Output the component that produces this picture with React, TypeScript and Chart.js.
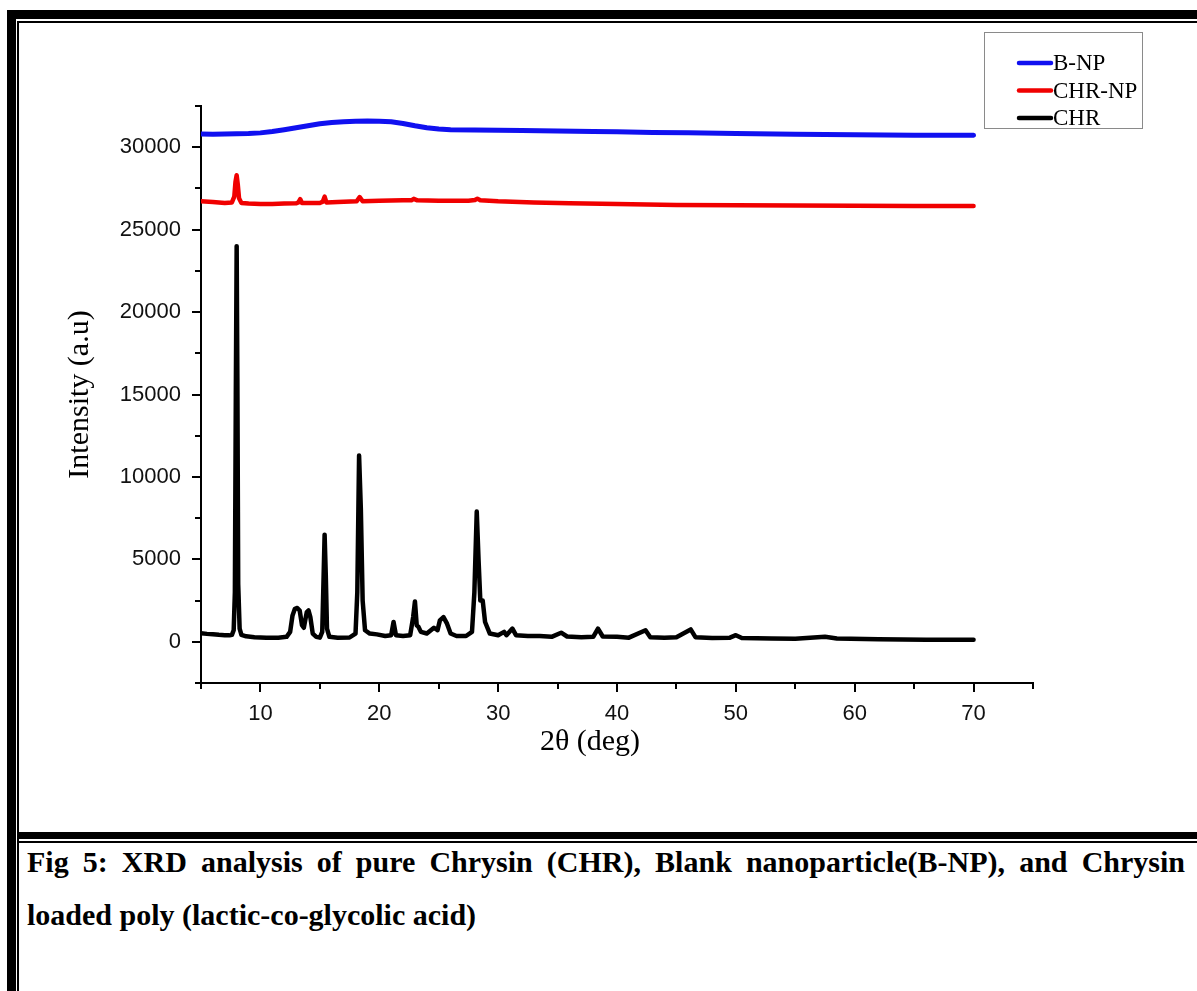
import React, { useEffect, useRef } from "react";
import { Chart, registerables } from "chart.js";

Chart.register(...registerables);

// ---- data ----
const SERIES_LABELS = ["B-NP", "CHR-NP", "CHR"];
const SERIES_COLORS = ["#1010f0", "#f00000", "#000000"];

const BNP_2THETA = [5, 6, 7, 8, 9, 10, 11, 12, 13, 14, 15, 16, 17, 18, 19, 20, 21, 22, 23, 24, 25, 26, 28, 30, 32, 35, 38, 40, 43, 46, 50, 55, 60, 65, 70];
const BNP_INTENSITY = [30800, 30790, 30800, 30810, 30830, 30870, 30950, 31060, 31180, 31300, 31420, 31500, 31550, 31580, 31590, 31580, 31540, 31440, 31300, 31180, 31100, 31060, 31040, 31030, 31010, 30990, 30960, 30940, 30900, 30870, 30830, 30780, 30750, 30730, 30720];

const CHRNP_2THETA = [5, 6, 7, 7.6, 7.8, 7.9, 8.0, 8.1, 8.2, 8.4, 9, 10, 11, 12, 13, 13.2, 13.35, 13.5, 15.0, 15.25, 15.4, 15.55, 16.5, 18.1, 18.35, 18.6, 20, 22, 22.7, 22.9, 23.2, 25, 27.5, 28.05, 28.25, 28.5, 30, 33, 36, 40, 45, 50, 55, 60, 65, 70];
const CHRNP_INTENSITY = [26720, 26680, 26620, 26650, 27000, 27900, 28300, 27700, 26900, 26620, 26580, 26560, 26560, 26580, 26600, 26650, 26850, 26620, 26620, 26700, 27000, 26650, 26680, 26720, 26980, 26720, 26760, 26780, 26780, 26870, 26780, 26760, 26750, 26800, 26880, 26780, 26720, 26650, 26600, 26550, 26500, 26480, 26460, 26450, 26440, 26430];

const CHR_2THETA = [5.0, 5.5, 6.0, 6.5, 7.0, 7.4, 7.6, 7.75, 7.85, 7.93, 8.0, 8.06, 8.13, 8.25, 8.4, 8.8, 9.5, 10.5, 11.5, 12.2, 12.5, 12.7, 12.9, 13.1, 13.3, 13.5, 13.65, 13.9, 14.05, 14.2, 14.4, 14.7, 15.0, 15.2, 15.3, 15.4, 15.5, 15.6, 15.8, 16.5, 17.5, 18.0, 18.15, 18.3, 18.45, 18.6, 18.8, 19.2, 19.8, 20.5, 21.0, 21.2, 21.4, 22.0, 22.6, 22.85, 23.0, 23.15, 23.3, 23.5, 24.0, 24.6, 24.9, 25.1, 25.4, 25.7, 26.0, 26.5, 27.3, 27.8, 28.0, 28.2, 28.35, 28.5, 28.7, 28.9, 29.3, 30.0, 30.5, 30.7, 31.2, 31.5, 32.5, 33.5, 34.5, 35.3, 35.8, 37.0, 38.0, 38.4, 38.8, 40.0, 41.0, 42.4, 42.8, 44.0, 45.0, 46.2, 46.6, 48.0, 49.5, 50.0, 50.5, 53.0, 55.0, 57.5, 58.5, 62.0, 66.0, 70.0];
const CHR_INTENSITY = [520, 480, 450, 420, 400, 390, 420, 700, 3000, 15000, 24000, 16000, 3500, 800, 420, 330, 280, 250, 250, 300, 600, 1600, 2000, 2050, 1900, 1000, 850, 1800, 1900, 1500, 500, 300, 250, 600, 3500, 6500, 4000, 800, 300, 250, 260, 500, 3000, 11300, 8000, 2500, 700, 500, 450, 350, 400, 1200, 400, 350, 400, 1500, 2450, 1000, 900, 600, 500, 850, 700, 1300, 1500, 1100, 500, 350, 350, 600, 3000, 7900, 5000, 2500, 2500, 1200, 500, 400, 600, 400, 800, 400, 350, 350, 300, 550, 320, 280, 300, 800, 320, 300, 250, 700, 280, 250, 280, 750, 280, 230, 250, 400, 230, 200, 180, 300, 200, 150, 130, 120];

const X_MIN = 5;
const X_MAX = 75;
const X_STEP = 5;
const X_TICK_LABELS = ["10", "20", "30", "40", "50", "60", "70"];
const Y_MIN = -2500;
const Y_MAX = 32500;
const Y_STEP = 2500;
const Y_TICK_LABELS = ["0", "5000", "10000", "15000", "20000", "25000", "30000"];

const X_TITLE = "2\u03b8 (deg)";
const Y_TITLE = "Intensity (a.u)";
const CAPTION_1 = "Fig 5:  XRD analysis of pure Chrysin (CHR), Blank nanoparticle(B-NP), and Chrysin";
const CAPTION_2 = "loaded poly (lactic-co-glycolic acid)";

const SERIF = '"Liberation Serif", "Times New Roman", serif';
const SANS = '"Liberation Sans", Arial, sans-serif';

const toPoints = (xs: number[], ys: number[]) => xs.map((x, i) => ({ x, y: ys[i] }));

const axisTicksPlugin = {
  id: "axisTicks",
  afterDraw(chart: any) {
    const { ctx } = chart;
    const xs = chart.scales.x;
    const ys = chart.scales.y;
    ctx.save();
    ctx.strokeStyle = "#000";
    ctx.lineWidth = 2;
    xs.ticks.forEach((t: any) => {
      const px = Math.round(xs.getPixelForValue(t.value));
      const major = X_TICK_LABELS.includes(String(t.value));
      const len = major ? 9 : 6;
      ctx.beginPath();
      ctx.moveTo(px, xs.top);
      ctx.lineTo(px, xs.top + len);
      ctx.stroke();
    });
    ys.ticks.forEach((t: any) => {
      const py = Math.round(ys.getPixelForValue(t.value));
      const major = Y_TICK_LABELS.includes(String(t.value));
      const len = major ? 9 : 6;
      ctx.beginPath();
      ctx.moveTo(ys.right, py);
      ctx.lineTo(ys.right - len, py);
      ctx.stroke();
    });
    // x axis title
    ctx.fillStyle = "#000";
    ctx.font = `30px ${SERIF}`;
    ctx.textAlign = "center";
    ctx.textBaseline = "middle";
    ctx.fillText(X_TITLE, (xs.left + xs.right) / 2 - 27, xs.bottom - 90);
    ctx.restore();
  },
};

const boxLegendPlugin = {
  id: "boxLegend",
  afterDraw(chart: any) {
    const { ctx } = chart;
    const right = chart.width - 55;
    const left = right - 158;
    const top = 9;
    ctx.save();
    ctx.strokeStyle = "#8a8a8a";
    ctx.lineWidth = 1;
    ctx.strokeRect(left + 0.5, top + 0.5, 158, 96);
    chart.data.datasets.forEach((ds: any, i: number) => {
      const cy = top + 31 + i * 27.5;
      ctx.strokeStyle = ds.borderColor;
      ctx.lineWidth = 4.5;
      ctx.lineCap = "round";
      ctx.beginPath();
      ctx.moveTo(left + 35, cy);
      ctx.lineTo(left + 67, cy);
      ctx.stroke();
      ctx.fillStyle = "#000";
      ctx.font = `23px ${SERIF}`;
      ctx.textAlign = "left";
      ctx.textBaseline = "middle";
      ctx.fillText(ds.label, left + 69, cy + 1);
    });
    ctx.restore();
  },
};

function XrdChart() {
  const ref = useRef<HTMLCanvasElement | null>(null);
  useEffect(() => {
    if (!ref.current) return;
    const chart = new Chart(ref.current, {
      type: "line",
      data: {
        datasets: [
          { label: SERIES_LABELS[0], data: toPoints(BNP_2THETA, BNP_INTENSITY), borderColor: SERIES_COLORS[0], borderWidth: 5 },
          { label: SERIES_LABELS[1], data: toPoints(CHRNP_2THETA, CHRNP_INTENSITY), borderColor: SERIES_COLORS[1], borderWidth: 4.5 },
          { label: SERIES_LABELS[2], data: toPoints(CHR_2THETA, CHR_INTENSITY), borderColor: SERIES_COLORS[2], borderWidth: 4.5 },
        ].map((d) => ({ ...d, pointRadius: 0, tension: 0, fill: false, borderJoinStyle: "round" as const, borderCapStyle: "round" as const })),
      },
      options: {
        animation: false,
        responsive: false,
        layout: { padding: { top: 83, right: 164, left: 0, bottom: 0 } },
        plugins: { legend: { display: false }, tooltip: { enabled: false }, title: { display: false } },
        scales: {
          x: {
            type: "linear",
            min: X_MIN,
            max: X_MAX,
            grid: { display: false, drawTicks: false },
            border: { display: true, color: "#000", width: 2 },
            ticks: {
              stepSize: X_STEP,
              autoSkip: false,
              maxRotation: 0,
              padding: 18,
              color: "#111",
              font: { family: SANS, size: 22 },
              callback: (v: any) => (X_TICK_LABELS.includes(String(v)) ? String(v) : ""),
            },
            afterFit: (s: any) => { s.height = 149; },
          },
          y: {
            type: "linear",
            min: Y_MIN,
            max: Y_MAX,
            grid: { display: false, drawTicks: false },
            border: { display: true, color: "#000", width: 2 },
            title: { display: true, text: Y_TITLE, color: "#000", font: { family: SERIF, size: 30 }, padding: { top: 43, bottom: 0 } },
            ticks: {
              stepSize: Y_STEP,
              autoSkip: false,
              padding: 20,
              color: "#111",
              font: { family: SANS, size: 22 },
              callback: (v: any) => (Y_TICK_LABELS.includes(String(v)) ? String(v) : ""),
            },
            afterFit: (s: any) => { s.width = 182; },
          },
        },
      },
      plugins: [axisTicksPlugin, boxLegendPlugin],
    });
    return () => chart.destroy();
  }, []);
  return <canvas ref={ref} width={1178} height={809} style={{ position: "absolute", left: 19, top: 23, width: 1178, height: 809 }} />;
}

const bar = (left: number, top: number, width: number, height: number) => (
  <div style={{ position: "absolute", left, top, width, height, background: "#000" }} />
);

export default function App() {
  return (
    <div style={{ position: "absolute", left: 0, top: 0, width: 1197, height: 991, overflow: "hidden", background: "#fff" }}>
      {bar(7, 10, 1190, 9)}
      {bar(17, 21, 1180, 2)}
      {bar(7, 10, 9, 981)}
      {bar(17, 21, 2, 970)}
      {bar(17, 832, 1180, 7)}
      {bar(19, 841, 1178, 2)}
      <XrdChart />
      <div style={{ position: "absolute", left: 27, top: 844, width: 1158, textAlign: "justify", textAlignLast: "justify", font: `bold 30px/36px ${SERIF}`, color: "#000" }}>{CAPTION_1}</div>
      <div style={{ position: "absolute", left: 27, top: 897, whiteSpace: "pre", font: `bold 30px/36px ${SERIF}`, color: "#000" }}>{CAPTION_2}</div>
    </div>
  );
}
